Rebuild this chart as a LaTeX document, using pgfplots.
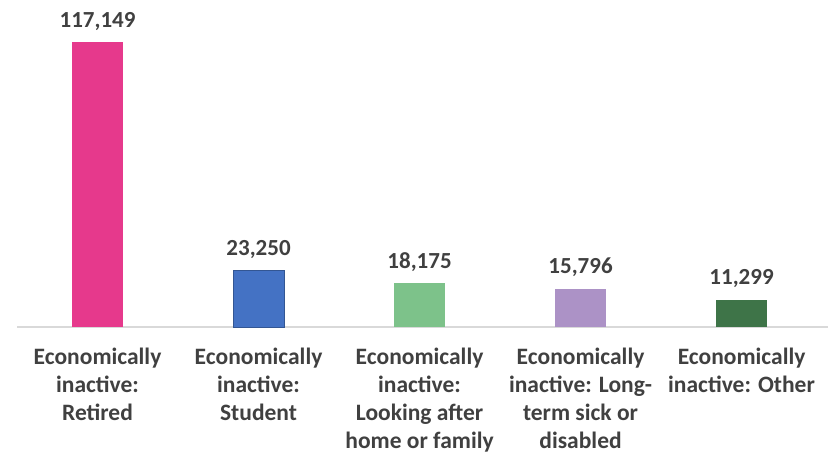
\documentclass[border=0pt]{standalone}
\usepackage{pgfplots}
\pgfplotsset{compat=1.18}
\usepackage{fontspec}
\setmainfont{Carlito}
\definecolor{txt}{HTML}{404040}
\definecolor{cpink}{HTML}{E6398C}
\definecolor{cblue}{HTML}{4472C4}
\definecolor{cgreen}{HTML}{7DC28A}
\definecolor{cpurple}{HTML}{AC92C6}
\definecolor{cdark}{HTML}{3E7448}
\begin{document}
\begin{tikzpicture}
\begin{axis}[
    width=811pt, height=304pt, scale only axis,
    xmin=-0.5, xmax=4.537, ymin=0, ymax=125000,
    hide y axis,
    axis x line*=bottom,
    x axis line style={draw=black!15, line width=1.6pt, -},
    xtick={0,1,2,3,4},
    major tick length=0pt,
    xticklabels={
        {Economically\\inactive:\\Retired},
        {Economically\\inactive:\\Student},
        {Economically\\inactive:\\Looking after\\home or family},
        {Economically\\inactive: Long-\\term sick or\\disabled},
        {Economically\\inactive: Other}},
    xticklabel style={align=center, font=\fontsize{23.5}{28}\selectfont\bfseries, text=txt, anchor=north, yshift=-17pt},
    ybar, bar width=51pt, bar shift=0pt,
    clip=false,
    /pgf/number format/assume math mode=true,
    nodes near coords={\pgfmathprintnumber[fixed, precision=0, 1000 sep={,}]{\pgfplotspointmeta}},
    nodes near coords style={font=\fontsize{23}{27}\selectfont\bfseries, text=txt, yshift=8pt},
]
\addplot[fill=cpink, draw=none] coordinates {(0,117149)};
\addplot[fill=cblue, draw=cblue!75!black, line width=0.8pt] coordinates {(1,23250)};
\addplot[fill=cgreen, draw=none] coordinates {(2,18175)};
\addplot[fill=cpurple, draw=none] coordinates {(3,15796)};
\addplot[fill=cdark, draw=none] coordinates {(4,11299)};
\path (rel axis cs:-0.021,-0.431) rectangle (rel axis cs:1.0012,1.0757);
\end{axis}
\end{tikzpicture}
\end{document}
